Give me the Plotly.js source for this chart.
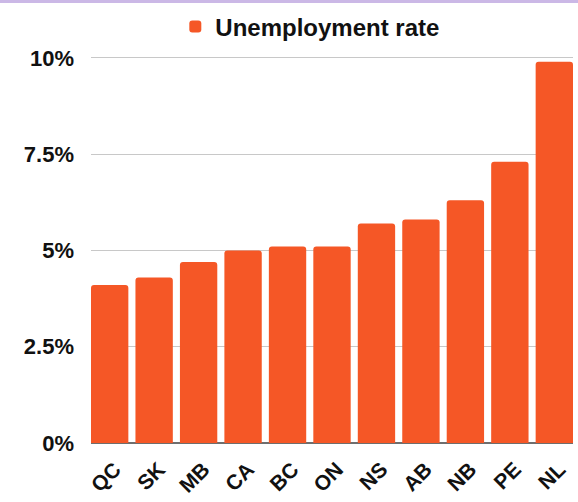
<!DOCTYPE html>
<html>
<head>
<meta charset="utf-8">
<script src="https://cdn.plot.ly/plotly-3.0.1.min.js"></script>
<style>
  html, body { margin: 0; padding: 0; background: #fff; }
  #wrap { position: relative; width: 578px; height: 502px; overflow: hidden; }
  #topline { position: absolute; left: 0; top: 0; width: 578px; height: 3px; background: #cbb8e6; z-index: 5; }
  #chart { width: 578px; height: 502px; }
</style>
</head>
<body>
<div id="wrap">
  <div id="topline"></div>
  <div id="chart"></div>
</div>
<script>
const provinces = ["QC", "SK", "MB", "CA", "BC", "ON", "NS", "AB", "NB", "PE", "NL"];
const unemploymentRate = [4.1, 4.3, 4.7, 5.0, 5.1, 5.1, 5.7, 5.8, 6.3, 7.3, 9.9];
const yTickValues = [0, 2.5, 5, 7.5, 10];
const yTickLabels = ["0%", "2.5%", "5%", "7.5%", "10%"];
const seriesName = "Unemployment rate";

const FONT = "Liberation Sans, Arial, sans-serif";
const gap = 0.16;

const trace = {
  type: "bar",
  x: provinces,
  y: unemploymentRate,
  name: seriesName,
  marker: { color: "#F55726", cornerradius: 3 },
  hoverinfo: "x+y"
};

const layout = {
  width: 578,
  height: 502,
  margin: { l: 91, r: 5, t: 53, b: 59, pad: 0 },
  paper_bgcolor: "#fff",
  plot_bgcolor: "#fff",
  bargap: gap,
  showlegend: true,
  legend: {
    orientation: "h",
    x: 0.455, xanchor: "center",
    y: 1.067, yanchor: "middle",
    font: { family: FONT, size: 24, color: "#111", weight: "bold" },
    itemwidth: 30
  },
  xaxis: {
    type: "category",
    range: [-0.5 + gap / 2, provinces.length - 0.5 - gap / 2],
    tickangle: -45,
    tickfont: { family: FONT, size: 21, color: "#111", weight: "bold" },
    showgrid: false,
    showline: false,
    zeroline: false,
    ticks: "",
    ticklabelstandoff: 9,
    ticklabelshift: 5,
    automargin: false,
    fixedrange: true
  },
  yaxis: {
    range: [0, 10.1],
    tickvals: yTickValues,
    ticktext: yTickLabels,
    tickfont: { family: FONT, size: 22, color: "#111", weight: "bold" },
    showgrid: true,
    gridcolor: "#c8c8c8",
    gridwidth: 1,
    zeroline: true,
    zerolinecolor: "#6e6e6e",
    zerolinewidth: 2,
    showline: false,
    ticks: "",
    ticklabelstandoff: 16,
    automargin: false,
    fixedrange: true
  }
};

Plotly.newPlot("chart", [trace], layout, { displayModeBar: false, staticPlot: true });
</script>
</body>
</html>
